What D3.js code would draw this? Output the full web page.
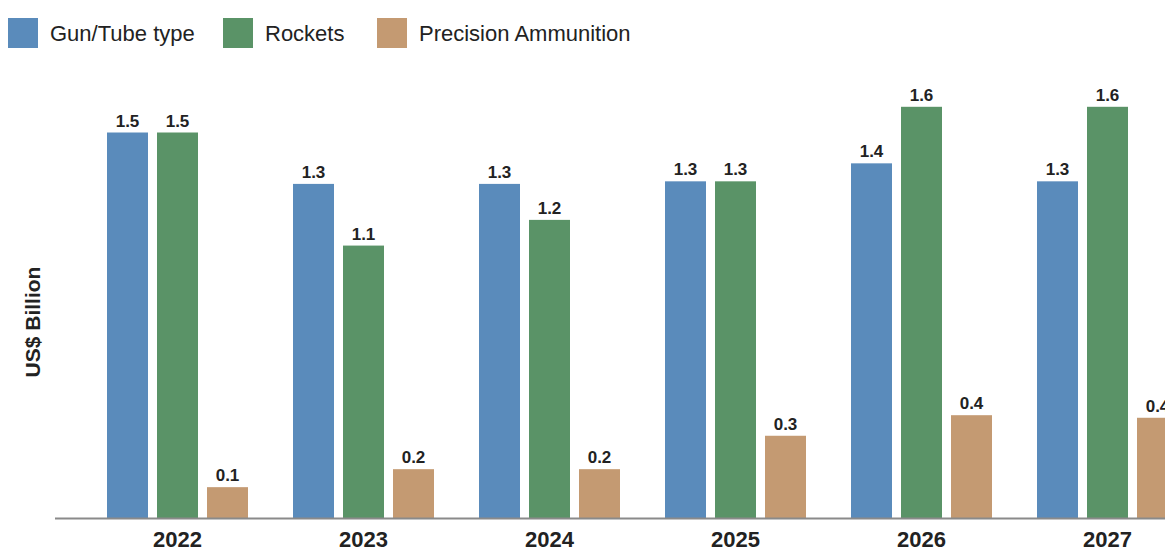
<!DOCTYPE html>
<html>
<head>
<meta charset="utf-8">
<script src="https://cdn.jsdelivr.net/npm/d3@7"></script>
<style>
  html, body { margin: 0; padding: 0; background: #fff; }
  svg { display: block; font-family: "Liberation Sans", Arial, Helvetica, sans-serif; }
</style>
</head>
<body>
<svg id="chart" width="1165" height="548"></svg>
<script>
// Market size by ammunition type, US$ billion
const years = ["2022", "2023", "2024", "2025", "2026", "2027"];
const seriesNames = ["Gun/Tube type", "Rockets", "Precision Ammunition"];
const gunTube = [1.50, 1.30, 1.30, 1.31, 1.38, 1.31];
const rockets = [1.50, 1.06, 1.16, 1.31, 1.60, 1.60];
const precision = [0.12, 0.19, 0.19, 0.32, 0.40, 0.39];
const colors = ["#5a8bbb", "#5a9367", "#c49a72"];

const seriesValues = [gunTube, rockets, precision];
const rows = years.map((y, i) => ({
  year: y,
  values: seriesNames.map((s, k) => ({ key: s, value: seriesValues[k][i] }))
}));

const svg = d3.select("#chart");
const baseY = 518;

const x0 = d3.scaleBand()
  .domain(years)
  .range([84.5, 1200.5])
  .paddingInner(45 / 186)
  .paddingOuter(45 / 372);

const x1 = d3.scaleBand()
  .domain(seriesNames)
  .range([0, x0.bandwidth()])
  .paddingInner(0.18)
  .paddingOuter(0);

const y = d3.scaleLinear()
  .domain([0, 1.8])
  .range([baseY, baseY - 1.8 * 257]);

const color = d3.scaleOrdinal().domain(seriesNames).range(colors);
const fmt = d3.format(".1f");

// Bars and value labels
const groups = svg.append("g")
  .selectAll("g")
  .data(rows)
  .join("g")
  .attr("transform", d => `translate(${x0(d.year)},0)`);

groups.selectAll("rect")
  .data(d => d.values)
  .join("rect")
  .attr("x", d => x1(d.key))
  .attr("y", d => y(d.value))
  .attr("width", x1.bandwidth())
  .attr("height", d => y(0) - y(d.value))
  .attr("fill", d => color(d.key));

groups.selectAll("text")
  .data(d => d.values)
  .join("text")
  .attr("x", d => x1(d.key) + x1.bandwidth() / 2)
  .attr("y", d => y(d.value) - 6)
  .attr("text-anchor", "middle")
  .attr("font-size", 17)
  .attr("font-weight", "bold")
  .attr("fill", "#222")
  .text(d => fmt(d.value));

// Category axis
const xAxis = svg.append("g")
  .attr("transform", `translate(0,${baseY})`)
  .call(d3.axisBottom(x0).tickSize(0));
xAxis.select(".domain").remove();
xAxis.append("line")
  .attr("x1", 55).attr("x2", 1165)
  .attr("y1", 0.5).attr("y2", 0.5)
  .attr("stroke", "#8a8a8a")
  .attr("stroke-width", 2);
xAxis.selectAll(".tick text")
  .attr("dy", null)
  .attr("y", 28.5)
  .attr("font-family", "Liberation Sans, Arial, sans-serif")
  .attr("font-size", 22)
  .attr("font-weight", "bold")
  .attr("fill", "#222");

// Axis title
svg.append("text")
  .attr("transform", "translate(40,322) rotate(-90)")
  .attr("text-anchor", "middle")
  .attr("font-size", 21)
  .attr("font-weight", "bold")
  .attr("fill", "#222")
  .text("US$ Billion");

// Legend
const legendX = [8, 223, 377];
const legend = svg.append("g")
  .selectAll("g")
  .data(seriesNames)
  .join("g")
  .attr("transform", (d, i) => `translate(${legendX[i]},18)`);
legend.append("rect")
  .attr("width", 30).attr("height", 30)
  .attr("fill", d => color(d));
legend.append("text")
  .attr("x", 42).attr("y", 23)
  .attr("font-size", 22)
  .attr("fill", "#222")
  .text(d => d);
</script>
</body>
</html>
